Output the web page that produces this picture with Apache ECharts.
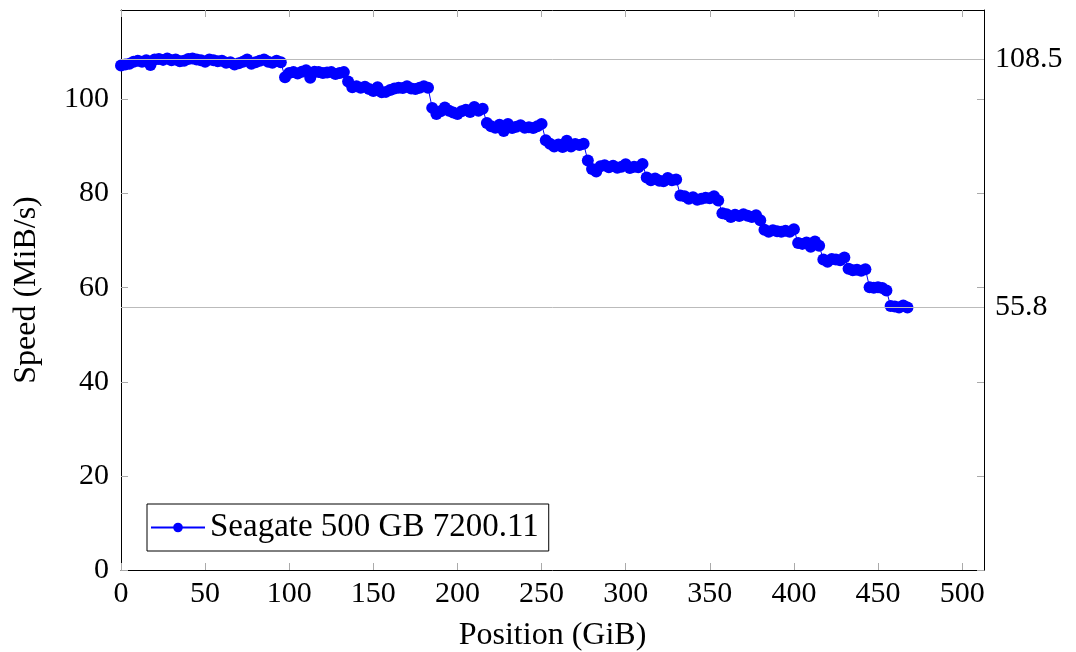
<!DOCTYPE html>
<html>
<head>
<meta charset="utf-8">
<script src="https://cdn.jsdelivr.net/npm/echarts@6/dist/echarts.min.js"></script>
<style>
html,body{margin:0;padding:0;background:#fff;}
#chart{width:1076px;height:652px;}
</style>
</head>
<body>
<div id="chart"></div>
<script>
// Positions (GiB)
var positions = [
  0,2.5,5,7.5,10,12.5,15,17.5,20,22.5,25,27.5,30,32.5,35,37.5,40,42.5,45,47.5,
  50,52.5,55,57.5,60,62.5,65,67.5,70,72.5,75,77.5,80,82.5,85,87.5,90,92.5,95,97.5,
  100,102.5,105,107.5,110,112.5,115,117.5,120,122.5,125,127.5,130,132.5,135,137.5,140,142.5,145,147.5,
  150,152.5,155,157.5,160,162.5,165,167.5,170,172.5,175,177.5,180,182.5,185,187.5,190,192.5,195,197.5,
  200,202.5,205,207.5,210,212.5,215,217.5,220,222.5,225,227.5,230,232.5,235,237.5,240,242.5,245,247.5,
  250,252.5,255,257.5,260,262.5,265,267.5,270,272.5,275,277.5,280,282.5,285,287.5,290,292.5,295,297.5,
  300,302.5,305,307.5,310,312.5,315,317.5,320,322.5,325,327.5,330,332.5,335,337.5,340,342.5,345,347.5,
  350,352.5,355,357.5,360,362.5,365,367.5,370,372.5,375,377.5,380,382.5,385,387.5,390,392.5,395,397.5,
  400,402.5,405,407.5,410,412.5,415,417.5,420,422.5,425,427.5,430,432.5,435,437.5,440,442.5,445,447.5,
  450,452.5,455,457.5,460,462.5,465,467.5
];
// Speed (MiB/s)
var speeds = [
  107.2,107.4,107.6,108.0,108.2,108.0,108.3,107.3,108.5,108.6,108.4,108.7,108.3,108.5,108.1,108.2,108.6,108.7,108.5,108.3,
  108.0,108.5,108.3,108.1,108.2,107.8,107.9,107.4,107.7,108.0,108.5,107.6,107.9,108.2,108.5,108.0,107.8,108.2,107.9,104.7,
  105.6,105.8,105.5,105.9,106.2,104.6,105.9,105.8,105.6,105.7,105.8,105.4,105.6,105.8,103.8,102.6,102.8,102.5,102.7,102.2,
  101.8,102.6,101.5,101.6,102.0,102.3,102.5,102.4,102.8,102.3,102.2,102.5,102.8,102.5,98.2,96.9,97.5,98.3,97.6,97.2,
  96.9,97.5,97.8,97.3,98.4,97.6,98.0,95.0,94.3,94.0,94.6,93.3,94.8,93.9,94.2,94.5,94.0,94.1,93.9,94.3,
  94.8,91.3,90.6,90.0,90.4,89.9,91.2,90.0,90.5,90.3,90.6,87.0,85.2,84.7,85.8,86.0,85.6,85.9,85.5,85.7,
  86.2,85.4,85.7,85.6,86.3,83.4,82.8,83.2,82.7,82.6,83.3,82.8,83.0,79.6,79.4,78.9,79.2,78.7,78.9,79.1,
  79.0,79.4,78.5,75.8,75.6,75.0,75.5,75.2,75.6,75.3,75.0,75.4,74.3,72.3,71.9,72.2,72.0,71.9,72.1,71.9,
  72.4,69.5,69.3,69.6,68.7,69.8,68.9,66.0,65.5,66.1,66.0,65.8,66.4,64.0,63.7,63.8,63.6,63.9,60.1,60.0,
  60.1,59.9,59.4,56.1,56.0,55.8,56.2,55.8
];
var xTicks = [0,50,100,150,200,250,300,350,400,450,500];
var yTicks = [0,20,40,60,80,100];
var rightMarks = [55.8,108.5];
var seriesName = 'Seagate 500 GB 7200.11';

var data = positions.map(function(p,i){ return [p, speeds[i]]; });
var font = 'Liberation Serif';
var chart = echarts.init(document.getElementById('chart'), null, {renderer:'canvas'});
chart.setOption({
  animation:false,
  backgroundColor:'#fff',
  grid:{left:121,right:92,top:10,bottom:82,containLabel:false,outerBoundsMode:'none'},
  legend:{
    left:147, top:504, orient:'horizontal',
    data:[seriesName],
    backgroundColor:'#fff', borderColor:'#000', borderWidth:1, borderRadius:0,
    padding:[7,10,7,3], itemWidth:54, itemHeight:12, itemGap:1,
    textStyle:{fontFamily:font, fontSize:33, color:'#000', padding:[2,0,0,0]}
  },
  xAxis:[{
    type:'value', min:0, max:513, position:'bottom',
    name:'Position (GiB)', nameLocation:'middle', nameGap:50,
    nameTextStyle:{fontFamily:font, fontSize:32, color:'#000'},
    axisLine:{show:true, onZero:false, lineStyle:{color:'#000', width:1}},
    axisTick:{show:true, inside:true, length:7, customValues:xTicks, lineStyle:{color:'#aaa'}},
    axisLabel:{customValues:xTicks, margin:9, fontFamily:font, fontSize:30, color:'#000'},
    splitLine:{show:false}
  },{
    type:'value', min:0, max:513, position:'top',
    axisLine:{show:true, onZero:false, lineStyle:{color:'#000', width:1}},
    axisTick:{show:true, inside:true, length:7, customValues:xTicks, lineStyle:{color:'#aaa'}},
    axisLabel:{show:false}, splitLine:{show:false}
  }],
  yAxis:[{
    type:'value', min:0, max:119, position:'left',
    name:'Speed (MiB/s)', nameLocation:'middle', nameGap:78,
    nameTextStyle:{fontFamily:font, fontSize:32, color:'#000'},
    axisLine:{show:true, onZero:false, lineStyle:{color:'#000', width:1}},
    axisTick:{show:true, inside:true, length:7, customValues:yTicks, lineStyle:{color:'#aaa'}},
    axisLabel:{customValues:yTicks, margin:12, fontFamily:font, fontSize:30, color:'#000'},
    splitLine:{show:false}
  },{
    type:'value', min:0, max:119, position:'right',
    axisLine:{show:true, onZero:false, lineStyle:{color:'#000', width:1}},
    axisTick:{show:true, inside:true, length:7, customValues:yTicks, lineStyle:{color:'#aaa'}},
    axisLabel:{customValues:rightMarks, margin:11, fontFamily:font, fontSize:30, color:'#000'},
    splitLine:{show:false}
  }],
  series:[{
    name:seriesName, type:'line', data:data,
    xAxisIndex:0, yAxisIndex:0,
    symbol:'circle', symbolSize:12, showSymbol:true, showAllSymbol:true,
    lineStyle:{color:'#0000ff', width:1},
    itemStyle:{color:'#0000ff', borderWidth:0},
    markLine:{
      silent:true, symbol:['none','none'], animation:false,
      label:{show:false},
      lineStyle:{color:'#bbb', width:1, type:'solid'},
      data: rightMarks.map(function(v){ return {yAxis:v}; })
    },
    z:3
  }]
});
</script>
</body>
</html>
